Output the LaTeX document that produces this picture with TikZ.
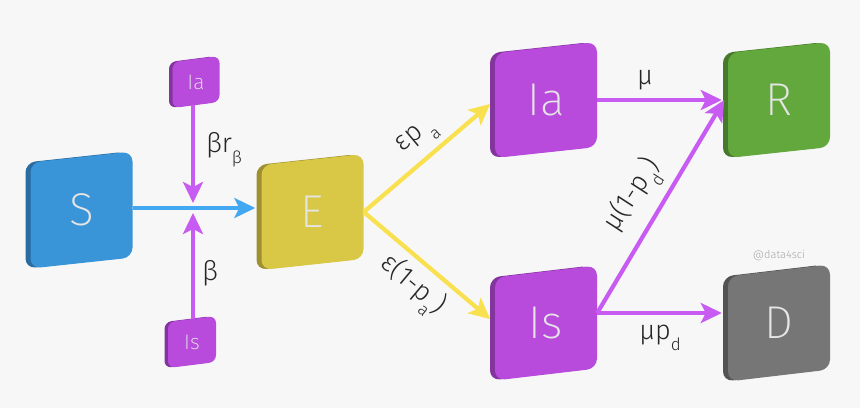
\documentclass[tikz,border=0pt]{standalone}
\usepackage{fontspec}
\IfFontExistsTF{Fira Sans Light}{\setmainfont{Fira Sans Light}}{\setmainfont{Fira Sans}}
\IfFontExistsTF{Fira Sans ExtraLight}{\newfontfamily\boxfont{Fira Sans ExtraLight}}{\newfontfamily\boxfont{Fira Sans}}
\usetikzlibrary{arrows.meta}
\definecolor{bg}{HTML}{F7F7F7}
\definecolor{sface}{HTML}{3A94D8}
\definecolor{sside}{HTML}{2A6BA0}
\definecolor{eface}{HTML}{D9C845}
\definecolor{eside}{HTML}{9E9030}
\definecolor{iface}{HTML}{B84BDB}
\definecolor{iside}{HTML}{84349F}
\definecolor{rface}{HTML}{63A83D}
\definecolor{rside}{HTML}{467A2A}
\definecolor{dface}{HTML}{767676}
\definecolor{dside}{HTML}{535353}
\definecolor{yarrow}{HTML}{F9E04E}
\definecolor{parrow}{HTML}{C85CF2}
\definecolor{barrow}{HTML}{42A8F2}
\newcommand\lsub[1]{\raisebox{-0.42em}{\fontsize{17pt}{17pt}\selectfont #1}}
% cx, cy, w, h, skew, face, side, radius, side shift
\newcommand\skbox[9]{%
  \begin{scope}[rounded corners=#8]
    \fill[#7] ({#1-#3/2-#9},{#2}) -- ({#1-#3/2-#9},{#2-#4/2+#5/2}) -- ({#1+#3/2-#9},{#2-#4/2-#5/2}) -- ({#1+#3/2-#9},{#2+#4/2-#5/2}) -- ({#1-#3/2-#9},{#2+#4/2+#5/2}) -- cycle;
    \fill[#6] ({#1-#3/2},{#2}) -- ({#1-#3/2},{#2-#4/2+#5/2}) -- ({#1+#3/2},{#2-#4/2-#5/2}) -- ({#1+#3/2},{#2+#4/2-#5/2}) -- ({#1-#3/2},{#2+#4/2+#5/2}) -- cycle;
  \end{scope}}
\tikzset{
  lbl/.style={inner sep=0pt, text=black!85, font=\fontsize{27}{27}\selectfont},
  boxtxt/.style={inner sep=0pt, text=white!90!black, font=\boxfont\fontsize{46}{46}\selectfont},
  bigbox/.style={boxtxt, minimum width=102pt, minimum height=105pt},
  smallbox/.style={boxtxt, minimum width=47pt, minimum height=46pt, font=\boxfont\fontsize{21}{21}\selectfont},
  conn/.style={line width=4.2pt, -{Stealth[length=21pt,width=20pt,inset=5pt]}, shorten >=6pt},
  yconn/.style={conn, draw=yarrow, fill=yarrow},
  pconn/.style={conn, draw=parrow, fill=parrow},
  bconn/.style={conn, line width=3.5pt, draw=barrow, fill=barrow},
}
\begin{document}
\begin{tikzpicture}[x=1pt, y=-1pt]
  \useasboundingbox (0,0) rectangle (860,408);
  \fill[bg] (0,0) rectangle (860,408);
  % box shapes
  \skbox{81.5}{210}{102}{106}{11}{sface}{sside}{10pt}{5}
  \skbox{312.5}{212}{102}{105}{11}{eface}{eside}{10pt}{5}
  \skbox{196}{82}{47}{46}{6}{iface}{iside}{7pt}{3.5}
  \skbox{192}{342}{48}{46}{6}{iface}{iside}{7pt}{3.5}
  \skbox{546}{100}{102}{105}{11}{iface}{iside}{10pt}{5}
  \skbox{546}{323}{102}{103}{12}{iface}{iside}{10pt}{5}
  \skbox{779}{100}{102}{105}{11}{rface}{rside}{10pt}{5}
  \skbox{779}{323}{102}{105}{12}{dface}{dside}{10pt}{5}
  % nodes
  \node[bigbox] (S) at (81.5,210) {S};
  \node[bigbox] (E) at (312.5,212) {E};
  \node[smallbox] (IaS) at (196,82) {Ia};
  \node[smallbox] (IsS) at (192,342) {Is};
  \node[bigbox] (Ia) at (546,100) {Ia};
  \node[bigbox] (Is) at (546,323) {Is};
  \node[bigbox] (R) at (779,100) {R};
  \node[bigbox] (D) at (779,323) {D};
  \node[inner sep=0pt, text=black!35, font=\fontsize{11}{11}\selectfont] (tag) at (779,255) {@data4sci};
  \coordinate (J) at (193,208);
  % connectors
  \draw[bconn] (S.east |- J) -- (E.west |- J);
  \draw[pconn, shorten >=5pt] (IaS.south -| J) -- (J);
  \draw[pconn, shorten >=5pt] (IsS.north -| J) -- (J);
  \draw[yconn] (E.east) -- (Ia.west);
  \draw[yconn] (E.east) -- (Is.west);
  \draw[pconn] (Ia.east) -- (R.west);
  \draw[pconn, shorten >=7pt] ([yshift=10pt]Is.east) -- ([yshift=6pt]R.west);
  \draw[pconn] ([yshift=10pt]Is.east) -- ([yshift=10pt]D.west);
  % labels
  \node[lbl] (lmu) at (645,80) {μ};
  \node[lbl] (lmupd) at (660,338) {μp\lsub{d}};
  \node[lbl, rotate=57] (lmu1pd) at (634,196) {μ(1-p\lsub{d})};
  \node[lbl, rotate=40] (lep) at (418,138) {εp\,\lsub{a}};
  \node[lbl, rotate=-40] (le1p) at (412,286) {ε(1-p\lsub{a})};
  \node[lbl] (lbr) at (224,150) {βr\lsub{β}};
  \node[lbl] (lb) at (210,273) {β};
\end{tikzpicture}
\end{document}
